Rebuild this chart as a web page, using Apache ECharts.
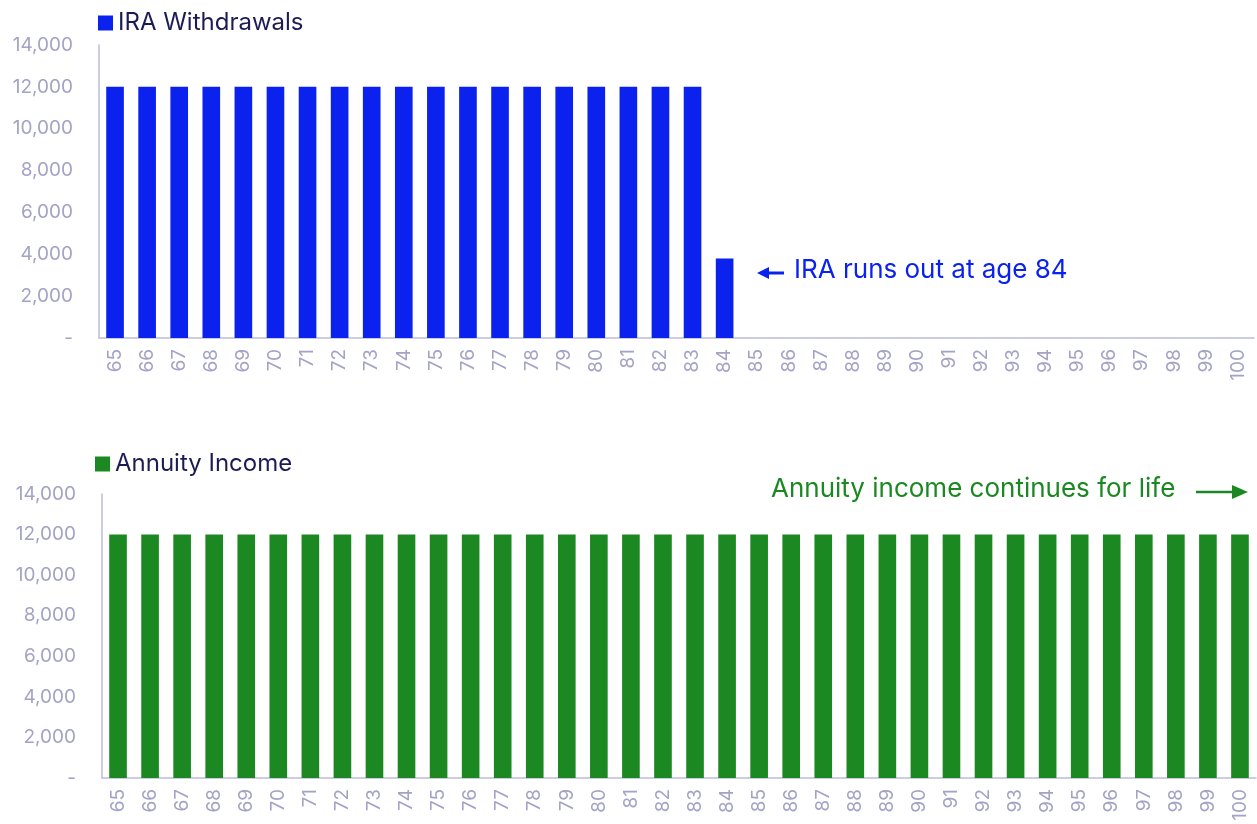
<!DOCTYPE html>
<html>
<head>
<meta charset="utf-8">
<script src="https://cdn.jsdelivr.net/npm/echarts@6/dist/echarts.min.js"></script>
<style>
  html, body { margin: 0; padding: 0; background: #fff; }
  #chart { width: 1257px; height: 824px; }
</style>
</head>
<body>
<div id="chart"></div>
<script>
// Ages on the horizontal axis
const ages = ['65','66','67','68','69','70','71','72','73','74','75','76','77','78','79','80','81','82','83','84','85','86','87','88','89','90','91','92','93','94','95','96','97','98','99','100'];

// Yearly IRA withdrawals (runs dry at 84)
const iraWithdrawals = [12000,12000,12000,12000,12000,12000,12000,12000,12000,12000,12000,12000,12000,12000,12000,12000,12000,12000,12000,3800,0,0,0,0,0,0,0,0,0,0,0,0,0,0,0,0];

// Yearly annuity income (lifetime)
const annuityIncome = [12000,12000,12000,12000,12000,12000,12000,12000,12000,12000,12000,12000,12000,12000,12000,12000,12000,12000,12000,12000,12000,12000,12000,12000,12000,12000,12000,12000,12000,12000,12000,12000,12000,12000,12000,12000];

// Value axis ticks
const yTicks = [0, 2000, 4000, 6000, 8000, 10000, 12000, 14000];

const FONT = 'Inter, "Noto Sans", sans-serif';
const BLUE = '#0b22ee';
const GREEN = '#1b8822';
const AXIS_LABEL = '#a3a3c6';
const AXIS_LINE = '#bdbdd8';
const TITLE = '#1c1c54';

function fmt(v) {
  return v === 0 ? '-' : v.toLocaleString('en-US');
}

function xAxis(gridIndex) {
  return {
    type: 'category', gridIndex, data: ages,
    axisLine: { lineStyle: { color: AXIS_LINE, width: 1.5 } },
    axisTick: { show: false },
    axisLabel: { rotate: 90, color: AXIS_LABEL, fontSize: 19, fontFamily: FONT, margin: 11, interval: 0 }
  };
}

function yAxis(gridIndex) {
  return {
    type: 'value', gridIndex, min: yTicks[0], max: yTicks[yTicks.length - 1], interval: 2000,
    axisLine: { show: true, lineStyle: { color: AXIS_LINE, width: 1.5 } },
    axisTick: { show: false },
    splitLine: { show: false },
    axisLabel: { color: AXIS_LABEL, fontSize: 19, fontFamily: FONT, margin: 26, formatter: fmt }
  };
}

const chart = echarts.init(document.getElementById('chart'), null, { renderer: 'canvas' });

chart.setOption({
  animation: false,
  backgroundColor: '#fff',
  grid: [
    { left: 99, right: 3, top: 45, height: 293 },
    { left: 102, right: 1, top: 494, height: 284 }
  ],
  legend: [
    {
      data: ['IRA Withdrawals'], left: 93, top: 6, itemWidth: 15, itemHeight: 15, itemGap: 6,
      icon: 'rect', textStyle: { color: TITLE, fontSize: 24, fontFamily: FONT }, selectedMode: false
    },
    {
      data: ['Annuity Income'], left: 90, top: 447, itemWidth: 15, itemHeight: 15, itemGap: 6,
      icon: 'rect', textStyle: { color: TITLE, fontSize: 24, fontFamily: FONT }, selectedMode: false
    }
  ],
  xAxis: [xAxis(0), xAxis(1)],
  yAxis: [yAxis(0), yAxis(1)],
  series: [
    {
      name: 'IRA Withdrawals', type: 'bar', xAxisIndex: 0, yAxisIndex: 0,
      data: iraWithdrawals, barWidth: '55%', itemStyle: { color: BLUE }
    },
    {
      name: 'Annuity Income', type: 'bar', xAxisIndex: 1, yAxisIndex: 1,
      data: annuityIncome, barWidth: '55%', itemStyle: { color: GREEN }
    }
  ],
  graphic: [
    // "runs out" note with a left-pointing arrow
    {
      type: 'line', shape: { x1: 766, y1: 273, x2: 784, y2: 273 },
      style: { stroke: BLUE, lineWidth: 3 }
    },
    {
      type: 'polygon', shape: { points: [[757, 273], [769, 267], [769, 279]] },
      style: { fill: BLUE }
    },
    {
      type: 'text', left: 794, top: 257,
      style: { text: 'IRA runs out at age 84', fill: BLUE, fontSize: 26, fontFamily: FONT }
    },
    // "continues for life" note with a right-pointing arrow
    {
      type: 'text', left: 771, top: 476,
      style: { text: 'Annuity income continues for life', fill: GREEN, fontSize: 26, fontFamily: FONT }
    },
    {
      type: 'line', shape: { x1: 1196, y1: 492, x2: 1234, y2: 492 },
      style: { stroke: GREEN, lineWidth: 2.5 }
    },
    {
      type: 'polygon', shape: { points: [[1232, 485], [1248, 492], [1232, 499]] },
      style: { fill: GREEN }
    }
  ]
});
</script>
</body>
</html>
